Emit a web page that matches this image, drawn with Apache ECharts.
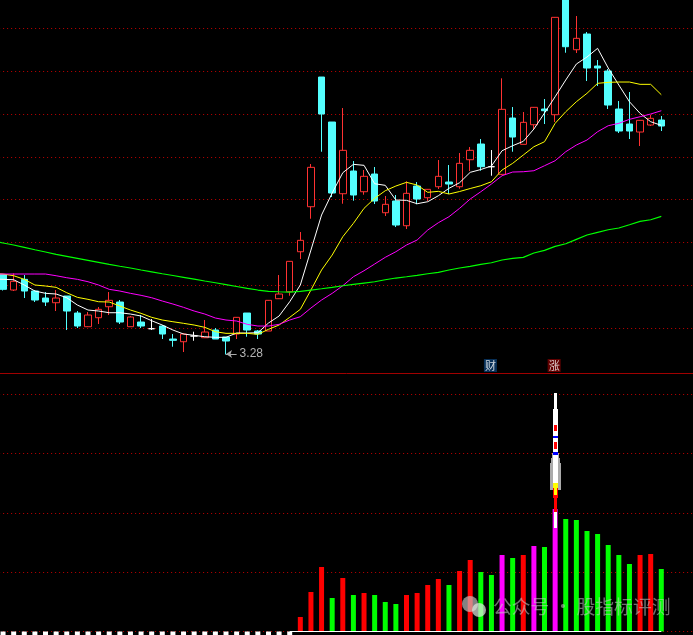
<!DOCTYPE html>
<html><head><meta charset="utf-8">
<style>html,body{margin:0;padding:0;background:#000}#c{width:693px;height:635px}</style>
<script src="https://cdn.jsdelivr.net/npm/echarts@6/dist/echarts.min.js"></script>
</head><body><div id="c"></div>
<script>
// Price-panel values are read on the chart's unlabelled level scale (one grid step = 42.83 levels).
// The first day lies just beyond the left edge; only its average lines reach into view.
const opens=[96,96.5,81,91.7,80,73,68.3,75,58,44.3,53.3,64.3,69,44.3,49,42.3,45,32,29.3,35,33.3,41,34,37,58,40,40,72.3,79.3,119.3,164.3,294,249,177.3,200,179.3,197,158.3,170,145.3,185,173.3,184.3,189,184.3,211.3,227,204.3,196.7,253,226.7,246.3,262,256.3,376,321.3,337,305,300,262,247,239,246,251];
const closes=[90,81.7,89.7,80,71,69,73,60,45,56,61.7,70.7,49,54,45,42.3,37,30.7,37,35,39,32,30,53.7,41,37,70.7,77,109.7,130.7,203.7,257,178,220.7,176,194.7,170,166.7,146,177.7,172,181.7,194.7,187,207.7,220.7,204.3,204.3,261.7,234,248.7,263.7,260.3,353.7,324.3,332.7,303,303,266,240,240,250.7,252.7,245];
const lows=[88,80.5,80,73,69,65,60,41,43,44,47,56,47,44.3,43,41,32,24.3,19,30.3,33,32,16.5,32,34.3,32,40,72,75.3,112,152.3,219.3,174,167.3,170.3,176.3,167,155,144,142,166.7,170,182,177,182.3,200,200.3,195.3,196,219.3,226.7,242,247,249,318.3,318,290,285,262,238,232,225,245,240];
const highs=[98,97,97.7,96,81,79,81,75,60,59,64,79,71,55,56,52,46,37,38,39.3,51,43,34,54,58,41,71,96,110,139,207,294,249,263,210,201,204,175,176,189.7,189,182,211,206,218,224,232,221,292.7,264,259,264,272,354,376,355,339,311,302,270,279,251,256,255];
const ma5=[92,91.7,91.3,86,80,77.7,77,73.3,66,61,60,58.3,58.3,57,55,50.3,46,41,37,35.7,34.3,33.7,33.7,38,38,38.3,48,55,69.3,86,121,156,178,198.3,206.7,205.7,187.3,185.7,171,170.7,167.3,169.3,175.3,182.7,188.3,198.7,201.5,205,220.3,225.3,229.7,242,258,274.3,291,307,314,322.7,303,286,269.3,257.7,249.3,245.7];
const ma10=[97.5,97,95.3,91.7,86,85,83.7,78.3,73.7,71.7,69.3,69,65,61,57.7,53.7,51,49.3,47.7,46,43.7,39.3,37.7,37.7,37.7,36.7,41.7,46,53.7,61.7,81,101,116,134.3,147.7,162.7,172.7,180.3,185,188.7,186,178.7,179.7,177,179.5,182.5,185.3,189.3,201,207.7,216,224.3,229.3,247.7,259.3,269.3,277.7,287.7,288.7,289,289,286.7,286.7,276.3];
const ma20=[97,97,97,97,97,97,95.3,93.3,91.7,89.3,86,81.7,80,77.7,75.7,73.3,70,67,63.7,60,57,53,51,50,46.7,45,45,46.7,51,54.3,63,71,77.7,85.3,94.3,100.3,107,113.7,119.3,126,131,141,148.3,154.3,162.7,172,179.3,187,195.3,199,199.3,200.3,205.3,210.3,219.3,226,231,239.3,245.3,247.7,251.7,254.3,257,260.3];
const ma60=[130,128,126,123.7,121.3,119,116.7,114.7,112.7,110.7,108.7,106.7,104.8,103,101,99.2,97.3,95.5,93.7,91.9,90,88.3,86.4,84.5,82.6,81,79.7,79.3,79,79.7,81,82.3,83.7,85.3,86.7,88,89.3,91.3,93,94.3,95.7,97.3,98.7,101,103,104.7,106.7,108.3,111,112.7,113.7,118,120.7,124.7,127.3,131.7,136,138.7,141.3,143,146.3,149.7,151.3,154.7];
const flatMarks=[15,19,47];          // white crosses
const lowIndex=22, lowLevel=17, lowLabel='3.28';
const badges=[{i:47,text:'财'},{i:53,text:'涨'}];

// Lower panel (one grid step = 59.3 levels)
const barStart=29;
const barValues=[14.5,39.5,64.5,33.5,53.5,36.5,38.5,36.5,29.5,27.5,36.5,38.5,46.5,52.5,46.5,60.5,71.5,59.5,56.5,76.5,73.5,76.5,85.5,84.5,122.5,112.5,111.5,100.5,97.5,86.5,76.5,67.5,76.5,77.5,62.5];
const barKinds='RRRGRGRGGGRRRRGRRGGMGRMGMGGGGGGGRRG';
const rocketIndex=53;
const rocketFrom=[141.5,168.5,173.5,222.5,148.5,200.5,182.5,193.5,176.5,133.5,119.5,143.5,136.5,103.5];
const rocketTo  =[168.5,173.5,178.5,238.5,222.5,206.5,189.5,195.5,179.5,143.5,133.5,148.5,143.5,119.5];

const rocketStyle=[[11,'#aaaaaa'],[9,'#aaaaaa'],[7,'#aaaaaa'],[3,'#ffffff'],[5,'#ffffff'],[3,'#ff0000'],[3,'#ff0000'],[5,'#0000ff'],[5,'#0000ff'],[5,'#ff0000'],[3,'#ff0000'],[5,'#ffff00'],[3,'#ffff00'],[3,'#ffffff']];
const N=67;
const categories=Array.from({length:N},(_,i)=>String(i+1));
const step=10.617, gl=-2.26-step, gw=N*step;
const RED='#ff3232',CY='#54ffff';
const kData=opens.map((o,i)=>{
  const flat=flatMarks.includes(i);
  return {value:[o,closes[i],lows[i],highs[i]],
    itemStyle:flat?{color:'#fff',color0:'#fff',borderColor:'#fff',borderColor0:'#fff'}:undefined};
});
const KIND={R:'#ff0000',G:'#00ff00',M:'#ff00ff'};
const barData=categories.map((_,i)=>{
  const k=i-barStart; if(k<0||k>=barValues.length) return null;
  return {value:barValues[k],itemStyle:{color:KIND[barKinds[k]]}};
});
const dashData=categories.map((_,i)=>i<barStart?-4:null);
const line=(name,data,color,width)=>({name,type:'line',data,xAxisIndex:0,yAxisIndex:0,symbol:'none',showSymbol:false,
  lineStyle:{color,width},itemStyle:{color},z:5,silent:true,clip:true});
const yBase={type:'value',axisLine:{show:false},axisTick:{show:false},axisLabel:{show:false},
  splitLine:{show:true,showMinLine:false,showMaxLine:false,lineStyle:{color:'#c00000',width:1,type:[1,3]}}};
const chart=echarts.init(document.getElementById('c'),null,{renderer:'canvas'});
chart.setOption({
  animation:false,backgroundColor:'#000',
  grid:[
    {left:gl,width:gw,top:-14.44,height:385.47,outerBoundsMode:'none',containLabel:false},
    {left:gl,width:gw,top:373.5,height:317.3,outerBoundsMode:'none',containLabel:false}
  ],
  xAxis:[
    {type:'category',gridIndex:0,data:categories,show:false,boundaryGap:true},
    {type:'category',gridIndex:1,data:categories,position:'top',boundaryGap:true,
     axisLine:{show:true,onZero:false,lineStyle:{color:'#a00000',width:1}},axisTick:{show:false},axisLabel:{show:false},splitLine:{show:false}}
  ],
  yAxis:[
    Object.assign({},yBase,{gridIndex:0,min:0,max:385.47,interval:42.83}),
    {...yBase,gridIndex:1,min:-59.3,max:258,interval:59.3}
  ],
  series:[
    {type:'candlestick',name:'K',xAxisIndex:0,yAxisIndex:0,data:kData,barWidth:7,z:3,silent:true,
     itemStyle:{color:'#000',color0:CY,borderColor:RED,borderColor0:CY,borderWidth:1},
     markLine:{silent:true,symbol:['arrow','none'],symbolSize:6,animation:false,
       lineStyle:{color:'#aaaaaa',width:1,type:'solid'},
       label:{show:true,position:'end',formatter:lowLabel,color:'#b4b4b4',fontSize:12,fontFamily:'"Liberation Sans"',distance:3},
       data:[[{coord:[lowIndex,lowLevel]},{coord:[lowIndex+1.05,lowLevel]}]]}},
    line('MA5',ma5,'#ffffff',1),line('MA10',ma10,'#ffff00',1),line('MA20',ma20,'#ff00ff',1),line('MA60',ma60,'#00ff00',1.2),
    {type:'scatter',name:'badge',xAxisIndex:0,yAxisIndex:0,symbol:'rect',symbolSize:13,symbolOffset:[-1,0],z:6,silent:true,
     data:badges.map(b=>({value:[b.i,5.5],
       itemStyle:{color:b.text==='财'?'#0a3c6e':'#7a0000'},
       label:{show:true,position:'inside',formatter:b.text,color:'#fff',fontSize:11,fontFamily:'"Noto Sans CJK SC"'}}))},
    {type:'bar',name:'signal',xAxisIndex:1,yAxisIndex:1,data:barData,barWidth:5,barGap:'-100%',z:3,silent:true,
     markLine:{silent:true,symbol:'none',animation:false,lineStyle:{color:'#ffffff',width:1,type:'solid'},label:{show:false},
       data:[[{coord:[28.2,0]},{coord:[63.25,0]}]]}},
    {type:'bar',name:'base',xAxisIndex:1,yAxisIndex:1,data:dashData,barWidth:5,barGap:'-100%',z:3,silent:true,itemStyle:{color:'#fff'}},
    {type:'custom',name:'rocket',xAxisIndex:1,yAxisIndex:1,z:6,silent:true,clip:false,
     data:rocketFrom.map((f,i)=>[rocketIndex,f,rocketTo[i],i]),
     encode:{x:0,y:[1,2]},
     renderItem:(p,api)=>{
       const a=api.coord([api.value(0),api.value(1)]),b=api.coord([api.value(0),api.value(2)]);
       const [w,c]=rocketStyle[api.value(3)];
       return {type:'rect',shape:{x:Math.round(a[0]-w/2),y:b[1],width:w,height:a[1]-b[1]},style:{fill:c}};
     }}
  ],
  graphic:[
    {type:'circle',z:100,shape:{cx:470,cy:604,r:8},style:{fill:'rgba(200,200,200,0.65)'}},
    {type:'circle',z:100,shape:{cx:479,cy:610,r:7},style:{fill:'rgba(225,235,225,0.7)'}},
    {type:'text',z:100,x:493,y:607,style:{text:'公众号 · 股指标评测',font:'18.8px "Noto Sans CJK SC"',fill:'rgba(200,200,200,0.55)',verticalAlign:'middle'}}
  ]
});
</script></body></html>
